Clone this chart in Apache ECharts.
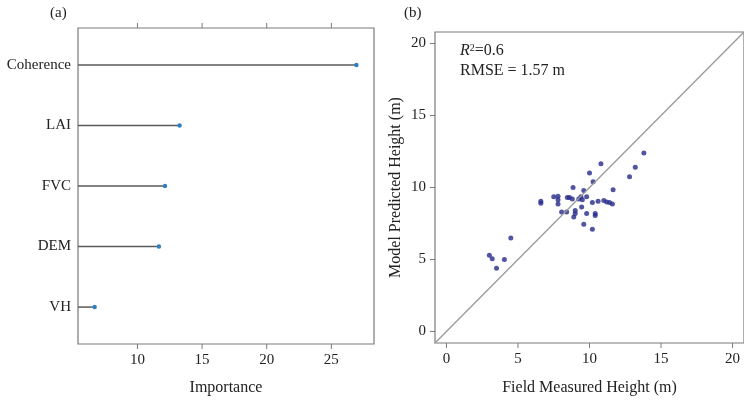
<!DOCTYPE html>
<html>
<head>
<meta charset="utf-8">
<script src="https://cdn.jsdelivr.net/npm/echarts@6/dist/echarts.min.js"></script>
<style>
  html, body { margin: 0; padding: 0; background: #fff; }
  #chart { width: 744px; height: 401px; }
</style>
</head>
<body>
<div id="chart"></div>
<script>
// (a) variable importance
const features = ['Coherence', 'LAI', 'FVC', 'DEM', 'VH'];
const importance = [26.94, 13.26, 12.13, 11.66, 6.69];
const importanceTicks = [10, 15, 20, 25];

// (b) field-measured vs. model-predicted canopy height (m)
const fieldHeight = [
  13.8, 13.2, 12.8, 10.8, 10.0, 10.25, 11.65, 8.85, 9.6, 6.6,
  6.6, 7.5, 7.8, 7.8, 7.8, 8.45, 8.6, 8.8, 9.25, 9.4,
  9.5, 9.8, 10.2, 10.6, 11.0, 11.2, 11.4, 11.6, 9.45, 8.05,
  8.4, 9.0, 9.0, 8.9, 9.8, 10.4, 10.4, 9.6, 10.2, 4.5,
  3.0, 3.2, 4.05, 3.5
];
const predictedHeight = [
  12.4, 11.4, 10.75, 11.65, 11.0, 10.4, 9.85, 10.0, 9.8, 9.05,
  8.9, 9.35, 9.4, 9.15, 8.85, 9.3, 9.3, 9.2, 9.2, 9.35,
  9.15, 9.35, 8.95, 9.05, 9.1, 9.0, 8.95, 8.85, 8.65, 8.3,
  8.3, 8.4, 8.2, 7.95, 8.2, 8.2, 8.05, 7.45, 7.1, 6.5,
  5.3, 5.05, 5.0, 4.4
];
const heightTicks = [0, 5, 10, 15, 20];
const oneToOne = [-0.8, 20.8];

const FONT = 'Liberation Serif';
const AXIS = '#7a7a7a';
const TEXT = '#222';
const TICK_LEN = 5;

const impMin = 5.4, impMax = 28.3;
const catMin = -0.61, catMax = 4.61;
const hMin = -0.8, hMax = 20.8;

const chart = echarts.init(document.getElementById('chart'), null, { renderer: 'canvas' });

const noLine = { show: false, onZero: false };

function valueAxis(gridIndex, min, max, position, labelValues, extra) {
  return Object.assign({
    gridIndex, type: 'value', min, max, position,
    axisLine: noLine, splitLine: { show: false }, axisTick: { show: false },
    axisLabel: { customValues: labelValues, fontFamily: FONT, fontSize: 15, color: TEXT, margin: 9 },
    nameTextStyle: { fontFamily: FONT, fontSize: 16, color: TEXT }
  }, extra || {});
}

const textGraphics = [
  { type: 'text', left: 50, top: 6, style: { text: '(a)', font: '15px "Liberation Serif"', fill: TEXT } },
  { type: 'text', left: 404, top: 6, style: { text: '(b)', font: '15px "Liberation Serif"', fill: TEXT } },
  {
    type: 'text', left: 460, top: 43,
    style: {
      text: '{i|R}{s|2}{n|=0.6}',
      rich: {
        i: { fontFamily: FONT, fontStyle: 'italic', fontSize: 16, fill: TEXT, verticalAlign: 'bottom' },
        s: { fontFamily: FONT, fontSize: 10, fill: TEXT, verticalAlign: 'top', padding: [0, 0, 6, 0] },
        n: { fontFamily: FONT, fontSize: 16, fill: TEXT, verticalAlign: 'bottom' }
      }
    }
  },
  { type: 'text', left: 460, top: 63, style: { text: 'RMSE = 1.57 m', font: '16px "Liberation Serif"', fill: TEXT } }
];

chart.setOption({
  animation: false,
  backgroundColor: '#fff',
  textStyle: { fontFamily: FONT, color: TEXT },
  grid: [
    { left: 78, top: 28, right: 370, bottom: 57, show: true, borderColor: AXIS, borderWidth: 1.2, backgroundColor: 'transparent' },
    { left: 435, top: 32, right: -6, bottom: 58, show: true, borderColor: AXIS, borderWidth: 1.2, backgroundColor: 'transparent' }
  ],
  xAxis: [
    valueAxis(0, impMin, impMax, 'bottom', importanceTicks,
      { name: 'Importance', nameLocation: 'middle', nameGap: 36 }),
    valueAxis(1, hMin, hMax, 'bottom', heightTicks,
      { name: 'Field Measured Height (m)', nameLocation: 'middle', nameGap: 37 })
  ],
  yAxis: [
    {
      gridIndex: 0, type: 'value', min: catMin, max: catMax, inverse: true, position: 'left',
      axisLine: noLine, splitLine: { show: false }, axisTick: { show: false },
      axisLabel: {
        customValues: [0, 1, 2, 3, 4],
        formatter: v => features[Math.round(v)] || '',
        fontFamily: FONT, fontSize: 15, color: TEXT, margin: 7
      }
    },
    valueAxis(1, hMin, hMax, 'left', heightTicks,
      { name: 'Model Predicted Height (m)', nameLocation: 'middle', nameGap: 31 })
  ],
  series: [
    {
      // lollipop stems from the left axis edge to each importance value
      type: 'custom',
      xAxisIndex: 0, yAxisIndex: 0,
      data: features.map((f, i) => [importance[i], i]),
      renderItem: function (params, api) {
        const idx = api.value(1);
        const start = api.coord([impMin, idx]);
        const end = api.coord([api.value(0), idx]);
        return {
          type: 'group',
          children: [
            { type: 'line', shape: { x1: start[0], y1: start[1], x2: end[0], y2: end[1] },
              style: { stroke: '#5a5a5a', lineWidth: 1.5 } },
            { type: 'circle', shape: { cx: end[0], cy: end[1], r: 2.2 },
              style: { fill: '#2f7fc1' } }
          ]
        };
      }
    },
    {
      // 1:1 reference line
      type: 'line',
      xAxisIndex: 1, yAxisIndex: 1,
      data: [[oneToOne[0], oneToOne[0]], [oneToOne[1], oneToOne[1]]],
      symbol: 'none', silent: true,
      lineStyle: { color: '#9a9a9a', width: 1.3 }
    },
    {
      type: 'scatter',
      xAxisIndex: 1, yAxisIndex: 1,
      data: fieldHeight.map((x, i) => [x, predictedHeight[i]]),
      symbolSize: 5,
      itemStyle: { color: '#262b8a' }
    }
  ],
  graphic: textGraphics
});

// Outward tick marks on the frame edges, positioned through each grid's scales.
function tickMark(gridIndex, value, edge, side) {
  const p = side === 'left'
    ? chart.convertToPixel({ gridIndex }, [edge, value])
    : chart.convertToPixel({ gridIndex }, [value, edge]);
  const dx = side === 'left' ? -TICK_LEN : 0;
  const dy = side === 'bottom' ? TICK_LEN : (side === 'top' ? -TICK_LEN : 0);
  return {
    type: 'line', z: 100, silent: true,
    shape: { x1: p[0], y1: p[1], x2: p[0] + dx, y2: p[1] + dy },
    style: { stroke: AXIS, lineWidth: 1 }
  };
}
const tickGraphics = [].concat(
  importanceTicks.map(v => tickMark(0, v, catMax, 'bottom')),
  importanceTicks.map(v => tickMark(0, v, catMin, 'top')),
  heightTicks.map(v => tickMark(1, v, hMin, 'bottom')),
  heightTicks.map(v => tickMark(1, v, hMin, 'left'))
);
chart.setOption({ graphic: textGraphics.concat(tickGraphics) }, { replaceMerge: ['graphic'] });
</script>
</body>
</html>
